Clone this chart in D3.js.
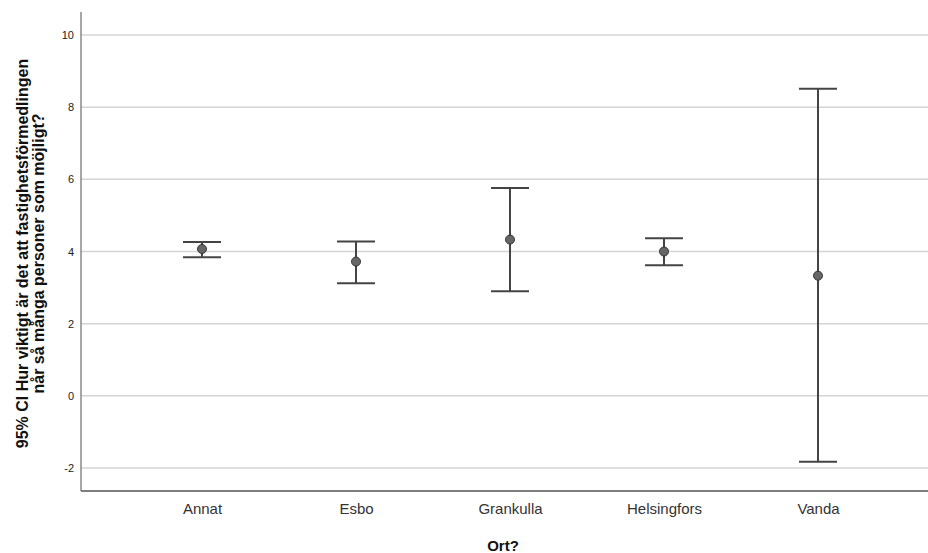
<!DOCTYPE html>
<html>
<head>
<meta charset="utf-8">
<script src="https://cdn.jsdelivr.net/npm/d3@7"></script>
<style>
  body { margin: 0; background: #fff; }
  svg { font-family: Arial, "Liberation Sans", sans-serif; }
</style>
</head>
<body>
<svg id="chart" width="928" height="553"></svg>
<script>
const categories = ['Annat', 'Esbo', 'Grankulla', 'Helsingfors', 'Vanda'];
const means = [4.07, 3.72, 4.33, 4.0, 3.33];
const lower = [3.84, 3.12, 2.90, 3.62, -1.83];
const upper = [4.26, 4.28, 5.76, 4.37, 8.51];
const yTicks = [-2, 0, 2, 4, 6, 8, 10];

const width = 928, height = 553;
const m = { left: 81, right: 0, top: 12, bottom: 62 };

const data = categories.map((c, i) => ({ cat: c, mean: means[i], lo: lower[i], hi: upper[i] }));

const svg = d3.select('#chart');

const y = d3.scaleLinear([-2.64, 10.64], [height - m.bottom, m.top]);
const x = d3.scalePoint(categories, [202, 818]);

// gridlines
svg.append('g')
  .selectAll('line')
  .data(yTicks)
  .join('line')
  .attr('x1', m.left)
  .attr('x2', width)
  .attr('y1', d => y(d))
  .attr('y2', d => y(d))
  .attr('stroke', '#d4d4d4')
  .attr('stroke-width', 1.5);

// y axis
const yAxis = svg.append('g')
  .attr('transform', `translate(${m.left},0)`)
  .call(d3.axisLeft(y).tickValues(yTicks).tickSize(0).tickPadding(7).tickFormat(d => String(d)));
yAxis.select('.domain').remove();
yAxis.selectAll('text').attr('font-size', 11).attr('fill', '#222')
  .attr('font-family', 'Arial, "Liberation Sans", sans-serif');

// x axis
const xAxis = svg.append('g')
  .attr('transform', `translate(0,${height - m.bottom})`)
  .call(d3.axisBottom(x).tickSize(0).tickPadding(12));
xAxis.select('.domain').remove();
xAxis.selectAll('text').attr('font-size', 15).attr('fill', '#333')
  .attr('font-family', 'Arial, "Liberation Sans", sans-serif');

// axis lines
svg.append('line')
  .attr('x1', m.left).attr('x2', m.left)
  .attr('y1', m.top).attr('y2', height - m.bottom)
  .attr('stroke', '#888').attr('stroke-width', 1.5);
svg.append('line')
  .attr('x1', m.left).attr('x2', width)
  .attr('y1', height - m.bottom).attr('y2', height - m.bottom)
  .attr('stroke', '#555').attr('stroke-width', 1.5);

// error bars
const capW = 19;
const g = svg.append('g').selectAll('g').data(data).join('g');
g.append('line')
  .attr('x1', d => x(d.cat)).attr('x2', d => x(d.cat))
  .attr('y1', d => y(d.lo)).attr('y2', d => y(d.hi))
  .attr('stroke', '#444').attr('stroke-width', 2);
g.selectAll('line.cap')
  .data(d => [{ c: d.cat, v: d.lo }, { c: d.cat, v: d.hi }])
  .join('line')
  .classed('cap', true)
  .attr('x1', d => x(d.c) - capW).attr('x2', d => x(d.c) + capW)
  .attr('y1', d => y(d.v)).attr('y2', d => y(d.v))
  .attr('stroke', '#444').attr('stroke-width', 2);
g.append('circle')
  .attr('cx', d => x(d.cat)).attr('cy', d => y(d.mean))
  .attr('r', 4.5)
  .attr('fill', '#666').attr('stroke', '#333').attr('stroke-width', 1);

// titles
svg.append('text')
  .attr('transform', `translate(28,${(m.top + height - m.bottom) / 2 + 2}) rotate(-90)`)
  .attr('text-anchor', 'middle')
  .attr('font-size', 16).attr('font-weight', 'bold').attr('fill', '#111')
  .selectAll('tspan')
  .data(['95% CI Hur viktigt är det att fastighetsförmedlingen', 'når så många personer som möjligt?'])
  .join('tspan')
  .attr('x', 0)
  .attr('dy', (d, i) => i ? 16 : 0)
  .text(d => d);

svg.append('text')
  .attr('x', 503).attr('y', 551)
  .attr('text-anchor', 'middle')
  .attr('font-size', 15).attr('font-weight', 'bold').attr('fill', '#111')
  .text('Ort?');
</script>
</body>
</html>
